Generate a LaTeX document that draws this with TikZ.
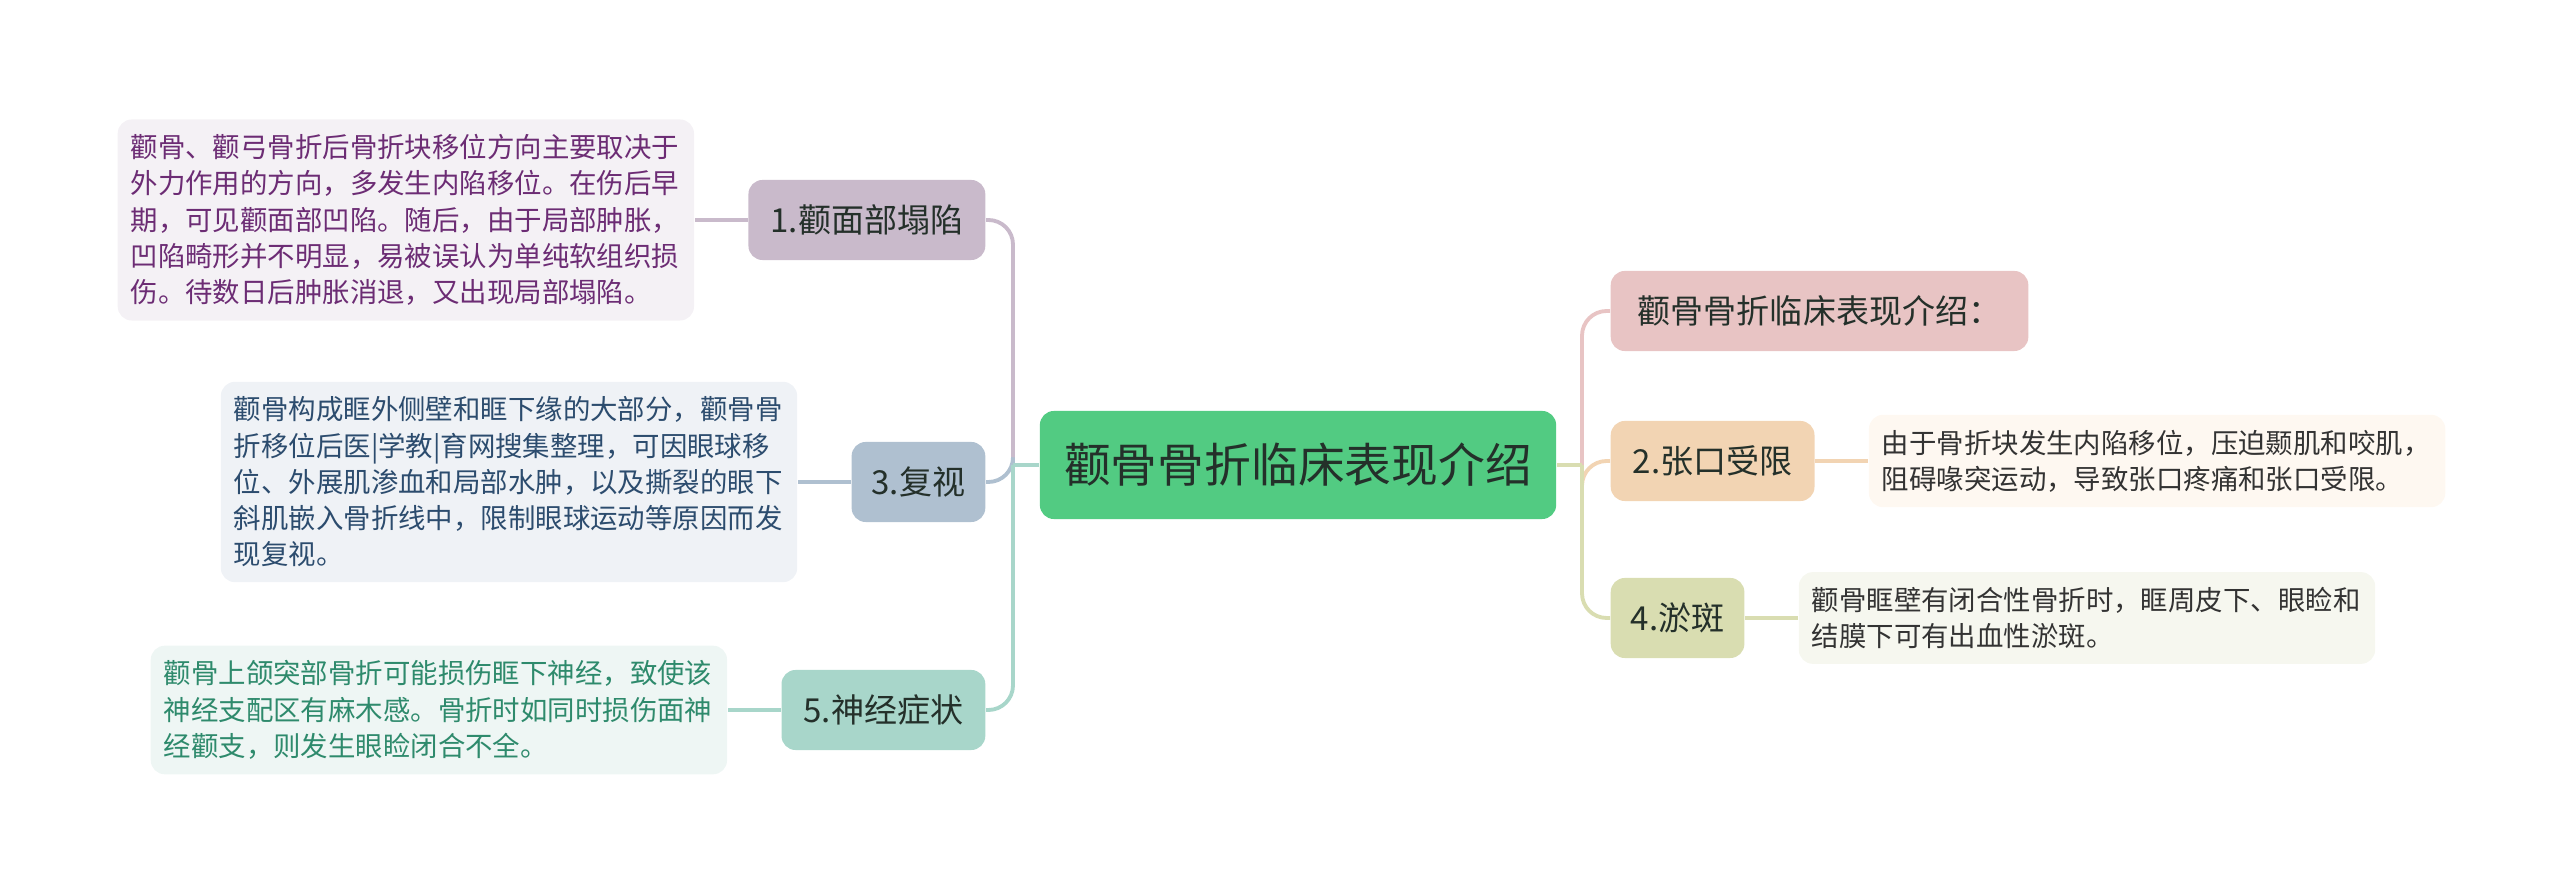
\documentclass[tikz,border=0pt]{standalone}
\usepackage{fontspec}
\setmainfont{Noto Sans CJK SC}
\usetikzlibrary{positioning}

\definecolor{rootfill}{HTML}{52CB82}
\definecolor{inkdark}{HTML}{24302A}
\definecolor{mauve}{HTML}{C9BACB}
\definecolor{mauvebg}{HTML}{F4F1F5}
\definecolor{mauveink}{HTML}{6C2C74}
\definecolor{slate}{HTML}{AFC0D0}
\definecolor{slatebg}{HTML}{EFF2F6}
\definecolor{slateink}{HTML}{2C4C6E}
\definecolor{mint}{HTML}{A8D6CA}
\definecolor{mintbg}{HTML}{EEF6F4}
\definecolor{mintink}{HTML}{2E8A6C}
\definecolor{rose}{HTML}{E8C4C4}
\definecolor{peach}{HTML}{F2D4B3}
\definecolor{peachbg}{HTML}{FEF8F1}
\definecolor{olive}{HTML}{D9DDB1}
\definecolor{olivebg}{HTML}{F6F7EF}
\definecolor{leafink}{HTML}{333333}

\begin{document}
\begin{tikzpicture}[
    x=0.01cm, y=-0.01cm,
    root/.style={rounded corners=4pt, fill=rootfill, text=inkdark,
        minimum width=5.16cm, minimum height=1.08cm,
        font=\fontsize{13.3}{15}\selectfont},
    topic/.style={rounded corners=4pt, minimum height=0.8cm,
        inner xsep=0.22cm, text=inkdark, font=\fontsize{9.4}{11}\selectfont},
    leaf/.style={rounded corners=4pt, text width=5.5cm, inner xsep=0.13cm,
        inner ysep=0.15cm, align=left, font=\fontsize{7.8}{10.3}\selectfont},
    link/.style={line width=1.1pt, rounded corners=7pt},
    node distance=0.53cm
  ]
  \useasboundingbox (0,0) rectangle (2560,895);

  \node[root] (root) at (1298,465) {颧骨骨折临床表现介绍};

  % left side
  \node[topic, fill=mauve, anchor=east] (b1) at (986,220) {1.颧面部塌陷};
  \node[topic, fill=slate, anchor=east, inner xsep=0.2cm] (b3) at (986,482) {3.复视};
  \node[topic, fill=mint, anchor=east] (b5) at (986,710) {5.神经症状};

  \node[leaf, fill=mauvebg, text=mauveink, left=of b1] (d1) {颧骨、颧弓骨折后骨折块移位方向主要取决于\\
    外力作用的方向，多发生内陷移位。在伤后早\\
    期，可见颧面部凹陷。随后，由于局部肿胀，\\
    凹陷畸形并不明显，易被误认为单纯软组织损\\
    伤。待数日后肿胀消退，又出现局部塌陷。};
  \node[leaf, fill=slatebg, text=slateink, left=of b3] (d3) {颧骨构成眶外侧壁和眶下缘的大部分，颧骨骨\\
    折移位后医|学教|育网搜集整理，可因眼球移\\
    位、外展肌渗血和局部水肿，以及撕裂的眼下\\
    斜肌嵌入骨折线中，限制眼球运动等原因而发\\
    现复视。};
  \node[leaf, fill=mintbg, text=mintink, left=of b5] (d5) {颧骨上颌突部骨折可能损伤眶下神经，致使该\\
    神经支配区有麻木感。骨折时如同时损伤面神\\
    经颧支，则发生眼睑闭合不全。};

  % right side
  \node[topic, fill=rose, anchor=west, inner xsep=0.27cm] (t0) at (1610,311) {颧骨骨折临床表现介绍：};
  \node[topic, fill=peach, anchor=west] (b2) at (1610,461) {2.张口受限};
  \node[topic, fill=olive, anchor=west, inner xsep=0.2cm] (b4) at (1610,618) {4.淤斑};

  \node[leaf, fill=peachbg, text=leafink, right=of b2] (d2) {由于骨折块发生内陷移位，压迫颞肌和咬肌，\\
    阻碍喙突运动，导致张口疼痛和张口受限。};
  \node[leaf, fill=olivebg, text=leafink, right=of b4] (d4) {颧骨眶壁有闭合性骨折时，眶周皮下、眼睑和\\
    结膜下可有出血性淤斑。};

  \coordinate (ltrunk) at (1013,465);
  \coordinate (rtrunk) at (1582,465);

  \draw[link, mauve] (ltrunk) |- (b1.east);
  \draw[link, slate] (ltrunk) |- (b3.east);
  \draw[link, mint] (ltrunk) |- (b5.east);
  \draw[link, mint] (root.west) -- (ltrunk);
  \draw[link, rose] (rtrunk) |- (t0.west);
  \draw[link, peach] (rtrunk) |- (b2.west);
  \draw[link, olive] (rtrunk) |- (b4.west);
  \draw[link, olive] (root.east) -- (rtrunk);

  \draw[link, mauve] (b1.west) -- (d1.east);
  \draw[link, slate] (b3.west) -- (d3.east);
  \draw[link, mint] (b5.west) -- (d5.east);
  \draw[link, peach] (b2.east) -- (d2.west);
  \draw[link, olive] (b4.east) -- (d4.west);
\end{tikzpicture}
\end{document}
